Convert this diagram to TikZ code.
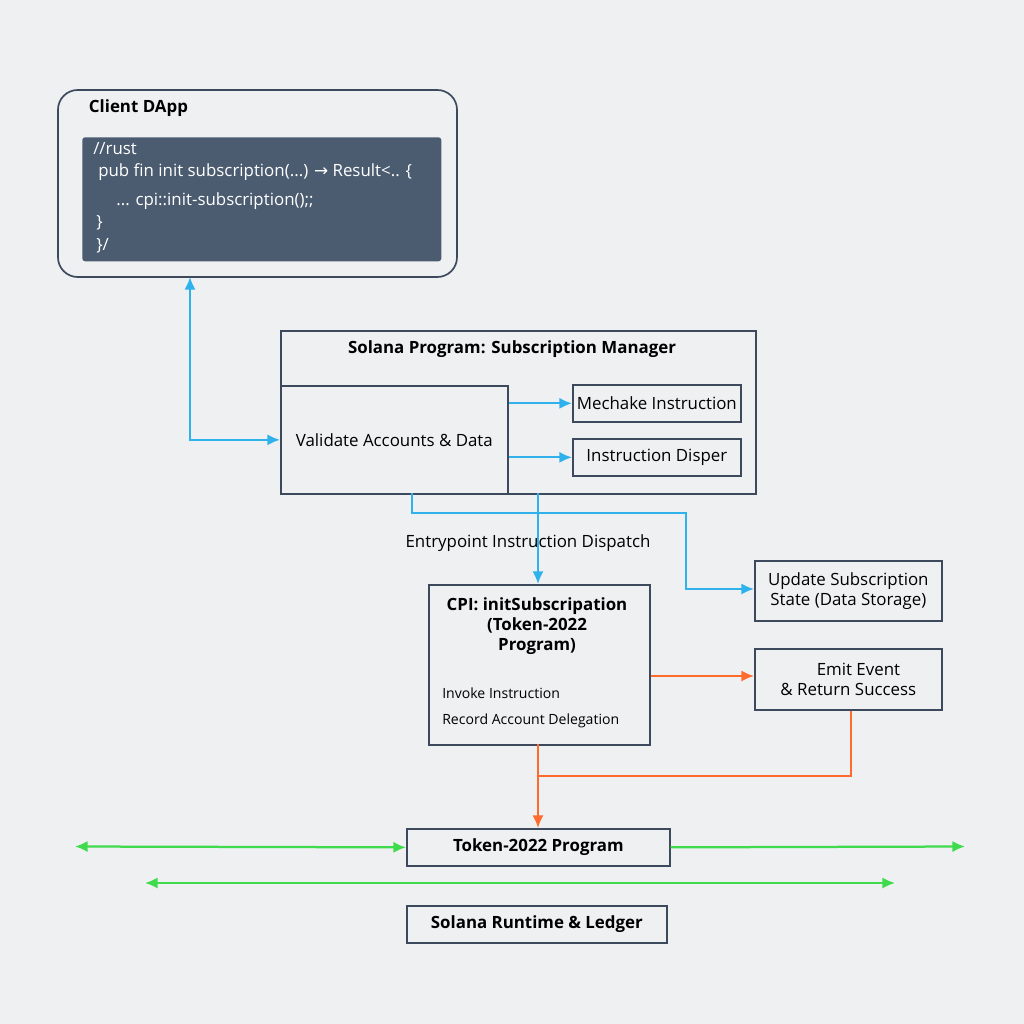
\documentclass[tikz,border=0pt]{standalone}
\usepackage{fontspec}
\setmainfont{Open Sans}
\newfontfamily\symfont{DejaVu Sans}
\usetikzlibrary{positioning, arrows.meta}
\definecolor{bgcol}{HTML}{EEF0F2}
\definecolor{edgecol}{HTML}{3D4A5E}
\definecolor{codecol}{HTML}{4B5B70}
\definecolor{bluecol}{HTML}{2FB2EC}
\definecolor{orangecol}{HTML}{FF6B2C}
\definecolor{greencol}{HTML}{3FDB4C}
\begin{document}
\begin{tikzpicture}[
    x=0.025cm, y=-0.025cm,
    font=\large,
    % Box style - dark slate borders
    box/.style={
        rectangle,
        draw=edgecol,
        line width=1.2pt,
        fill=bgcol,
        inner sep=0pt,
        font=\large
    },
    % Bold title style
    ttl/.style={
        font=\large\bfseries
    },
    % Code line style
    codeline/.style={
        font=\large,
        text=white,
        anchor=west,
        inner sep=0pt
    },
    % Arrow styles
    barrow/.style={-{Latex[length=9pt,width=8pt]}, draw=bluecol, line width=1.6pt},
    oarrow/.style={-{Latex[length=9pt,width=8pt]}, draw=orangecol, line width=1.6pt},
    garrow/.style={{Latex[length=9pt,width=8pt]}-{Latex[length=9pt,width=8pt]}, draw=greencol, line width=1.6pt}
]

% background
\fill[bgcol] (0,0) rectangle (1024,1024);
\useasboundingbox (0,0) rectangle (1024,1024);

% === Client DApp ===
\draw[edgecol, line width=1.2pt, rounded corners=14pt] (58,90) rectangle (457,277);
\node[ttl, anchor=west] (clientttl) at (84,108) {Client DApp};
\node[rectangle, fill=codecol, rounded corners=2pt, minimum width=359*0.025cm,
      minimum height=124*0.025cm, anchor=north west] (code) at (82,137) {};
\node[codeline] (c1) at (93,149) {//rust};
\node[codeline] (c2) at (98,172) {pub fin init subscription(...) {\symfont →} Result<.. \{};
\node[codeline] (c3) at (116,201) {... cpi::init-subscription();;};
\node[codeline] (c4) at (96,223) {\}};
\node[codeline] (c5) at (96,246) {\}/};
\coordinate (client) at (190,277);

% === Solana Program ===
\node[box, minimum width=475*0.025cm, minimum height=163*0.025cm, anchor=north west]
      (manager) at (280,330) {};
\node[ttl] (managerttl) at (512,349) {Solana Program: Subscription Manager};
\node[box, minimum width=227*0.025cm, minimum height=108*0.025cm, anchor=north west]
      (validate) at (280,385) {Validate Accounts \& Data};
\node[box, minimum width=168*0.025cm, minimum height=37*0.025cm, anchor=north west]
      (mech) at (572,384) {Mechake Instruction};
\node[box, minimum width=168*0.025cm, minimum height=37*0.025cm, anchor=north west]
      (disp) at (572,438) {Instruction Disper};

% === Middle row ===
\node (dispatch) at (528,543) {Entrypoint Instruction Dispatch};
\node[box, minimum width=187*0.025cm, minimum height=60*0.025cm, anchor=north west,
      align=center] (update) at (754,560) {Update Subscription\\State (Data Storage)};
\node[box, minimum width=221*0.025cm, minimum height=160*0.025cm, anchor=north west]
      (cpi) at (428,584) {};
\node[ttl, align=center] (cpittl) at (537,626) {CPI: initSubscripation\\(Token-2022\\Program)};
\node[anchor=west, inner sep=0pt, font=\normalsize] (invoke) at (442,693) {Invoke Instruction};
\node[anchor=west, inner sep=0pt, font=\normalsize] (record) at (442,721) {Record Account Delegation};
\node[box, minimum width=187*0.025cm, minimum height=61*0.025cm, anchor=north west,
      align=center] (emit) at (754,648) {\hspace*{1.2em}Emit Event\\\& Return Success};

% === Bottom ===
\node[box, ttl, minimum width=263*0.025cm, minimum height=37*0.025cm, anchor=north west]
      (token) at (406,828) {Token-2022 Program};
\node[box, ttl, minimum width=260*0.025cm, minimum height=37*0.025cm, anchor=north west]
      (ledger) at (406,905) {Solana Runtime \& Ledger};
\coordinate (gl) at (75,846.5);
\coordinate (gr) at (965,846.5);
\coordinate (hl) at (145,883);
\coordinate (hr) at (895,883);

% === Blue arrows ===
\draw[barrow, {Latex[length=9pt,width=8pt]}-{Latex[length=9pt,width=8pt]}]
      (client) |- (validate.west);
\draw[barrow] (validate.east |- mech.west) -- (mech.west);
\draw[barrow] (validate.east |- disp.west) -- (disp.west);
\draw[barrow] (538,493) -- (cpi.north -| 538,0);
\draw[barrow] (412,493) -- (412,513) -- (686,513) -- (686,589) -- (update.west |- 0,589);

% === Orange arrows ===
\draw[oarrow] (cpi.east |- 0,676) -- (emit.west |- 0,676);
\draw[oarrow] (538,744) -- (token.north -| 538,0);
\draw[orangecol, line width=1.6pt] (emit.south -| 851,0) |- (538,776);

% === Green arrows ===
\draw[garrow] (gl) -- (token.west);
\draw[barrow, draw=greencol] (token.east) -- (gr);
\draw[garrow] (hl) -- (hr);

\end{tikzpicture}
\end{document}
